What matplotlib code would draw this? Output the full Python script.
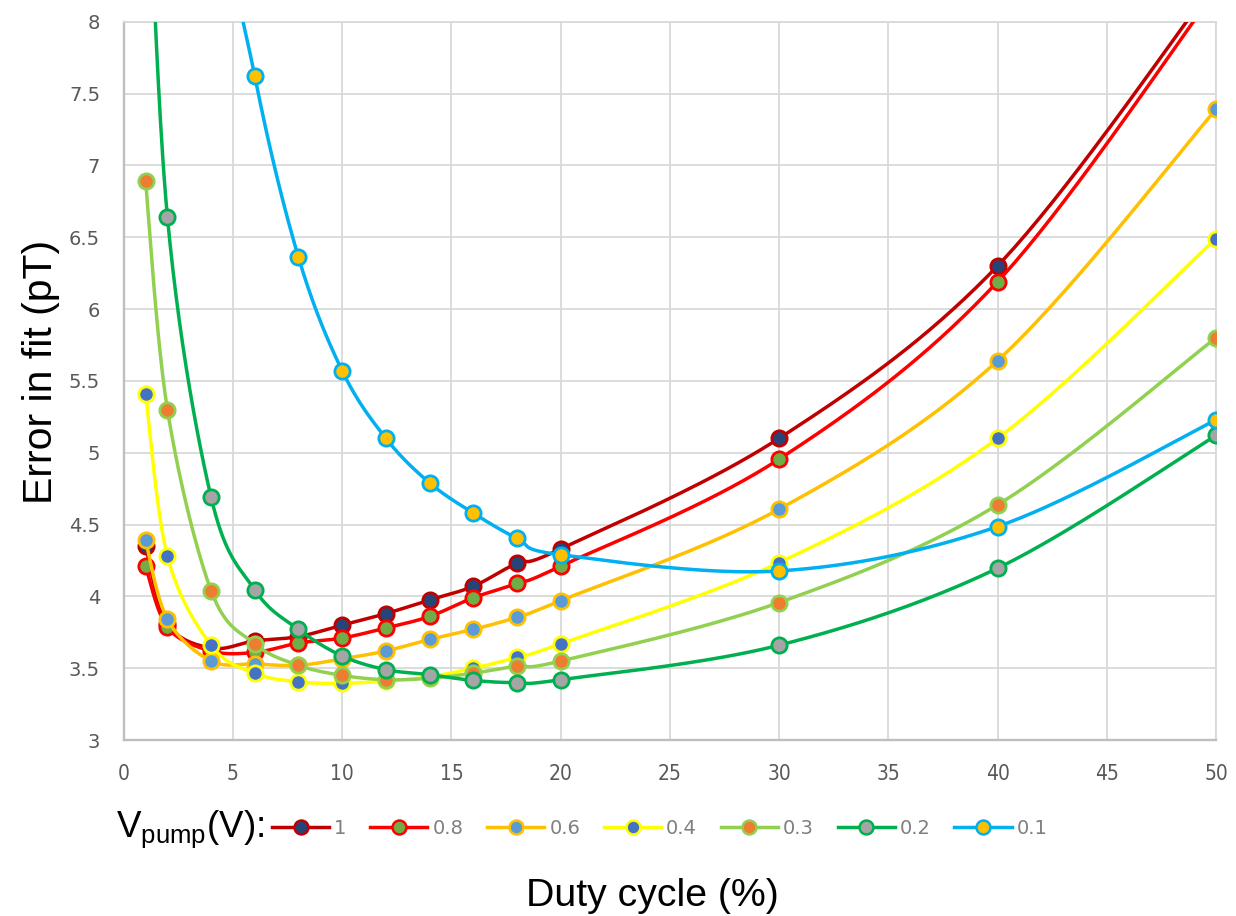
import numpy as np
import matplotlib
matplotlib.use('Agg')
import matplotlib.pyplot as plt
from matplotlib.lines import Line2D

# duty cycle (%) and fit error (pT) for each pump voltage
duty = [1, 2, 4, 6, 8, 10, 12, 14, 16, 18, 20, 30, 40, 50]
err_1p0 = [4.35, 3.81, 3.64, 3.69, 3.72, 3.80, 3.88, 3.975, 4.07, 4.23, 4.33, 5.10, 6.30, 8.28]
err_0p8 = [4.21, 3.785, 3.62, 3.61, 3.675, 3.71, 3.78, 3.86, 3.99, 4.09, 4.21, 4.955, 6.19, 8.22]
err_0p6 = [4.39, 3.84, 3.55, 3.53, 3.52, 3.565, 3.62, 3.70, 3.77, 3.855, 3.97, 4.607, 5.64, 7.39]
err_0p4 = [5.41, 4.28, 3.66, 3.465, 3.405, 3.395, 3.41, 3.44, 3.50, 3.575, 3.67, 4.235, 5.10, 6.49]
err_0p3 = [6.89, 5.30, 4.04, 3.67, 3.52, 3.45, 3.42, 3.43, 3.465, 3.515, 3.55, 3.957, 4.637, 5.80]
err_0p2 = [9.6, 6.64, 4.69, 4.045, 3.77, 3.585, 3.49, 3.455, 3.415, 3.40, 3.42, 3.66, 4.196, 5.12]
err_0p1 = [18.0, 13.5, 9.4, 7.62, 6.36, 5.57, 5.10, 4.79, 4.58, 4.405, 4.29, 4.177, 4.486, 5.228]

labels = ['1', '0.8', '0.6', '0.4', '0.3', '0.2', '0.1']
series = [err_1p0, err_0p8, err_0p6, err_0p4, err_0p3, err_0p2, err_0p1]
line_cols = ['#c00000', '#ff0000', '#ffc000', '#ffff00', '#92d050', '#00b050', '#00b0f0']
fill_cols = ['#264478', '#70ad47', '#5b9bd5', '#4472c4', '#ed7d31', '#a5a5a5', '#ffc000']


def smooth(xs, ys, n=40):
    # bezier smoothing like a spreadsheet "smoothed line"
    p = np.column_stack([xs, ys]).astype(float)
    out = []
    t = np.linspace(0, 1, n)[:, None]
    for i in range(len(p) - 1):
        p0 = p[i - 1] if i > 0 else p[i]
        p3 = p[i + 2] if i + 2 < len(p) else p[i + 1]
        c1 = p[i] + (p[i + 1] - p0) / 6
        c2 = p[i + 1] - (p3 - p[i]) / 6
        seg = ((1 - t) ** 3 * p[i] + 3 * (1 - t) ** 2 * t * c1
               + 3 * (1 - t) * t ** 2 * c2 + t ** 3 * p[i + 1])
        out.append(seg if i == 0 else seg[1:])
    out = np.vstack(out)
    return out[:, 0], out[:, 1]


fig = plt.figure(figsize=(12.36, 9.16), dpi=100)
ax = fig.add_axes([0.1001, 0.1921, 0.8837, 0.7842])

handles = []
for k, (lab, ys) in enumerate(zip(labels, series)):
    sx, sy = smooth(duty, ys)
    ax.plot(sx, sy, color=line_cols[k], lw=2.5, zorder=3 + 2 * k, solid_capstyle='round')
    ax.plot(duty, ys, 'o', ms=11, mfc=fill_cols[k], mec=line_cols[k], mew=2.0,
            zorder=4 + 2 * k)
    handles.append(Line2D([], [], color=line_cols[k], lw=2.5, marker='o', ms=10,
                          mfc=fill_cols[k], mec=line_cols[k], mew=1.8, label=lab))

ax.set_xlim(0, 50)
ax.set_ylim(3, 8)
ax.set_xticks(np.arange(0, 51, 5))
ax.set_yticks(np.arange(3, 8.01, 0.5))
ax.set_yticklabels(['%g' % v for v in np.arange(3, 8.01, 0.5)])
ax.grid(True, color='#d9d9d9', lw=1.3, zorder=0)
ax.set_axisbelow(True)
for s in ['top', 'right']:
    ax.spines[s].set_color('#d9d9d9')
    ax.spines[s].set_linewidth(1.3)
for s in ['left', 'bottom']:
    ax.spines[s].set_color('#bfbfbf')
    ax.spines[s].set_linewidth(1.7)

ax.tick_params(axis='both', length=0)
ax.tick_params(axis='y', pad=17, labelsize=14, labelcolor='#595959')
ax.tick_params(axis='x', pad=17, labelsize=15, labelcolor='#595959')
for t in ax.get_xticklabels():
    t.set_fontstretch('condensed')

plt.rcParams['mathtext.fontset'] = 'custom'
plt.rcParams['mathtext.rm'] = 'Liberation Sans'

fig.text(41 / 1236, 1 - 372 / 916, 'Error in fit (pT)', rotation=90, ha='center', va='center',
         fontsize=29.5, family='Liberation Sans', color='black')
fig.text(652 / 1236, 1 - 906 / 916, 'Duty cycle (%)', ha='center', va='baseline',
         fontsize=28.3, family='Liberation Sans', color='black')
fig.text(116 / 1236, 1 - 837 / 916, r'V$_\mathrm{pump}$(V):', ha='left', va='baseline',
         fontsize=26.5, family='Liberation Sans', color='black')

fig.legend(handles=handles, ncol=7, loc='center left', bbox_to_anchor=(272 / 1236, 1 - 828 / 916),
           frameon=False, fontsize=14, labelcolor='#7f7f7f', handlelength=2.94,
           handletextpad=0.26, columnspacing=1.22, borderpad=0, borderaxespad=0)

fig.savefig('out.png', dpi=100)
